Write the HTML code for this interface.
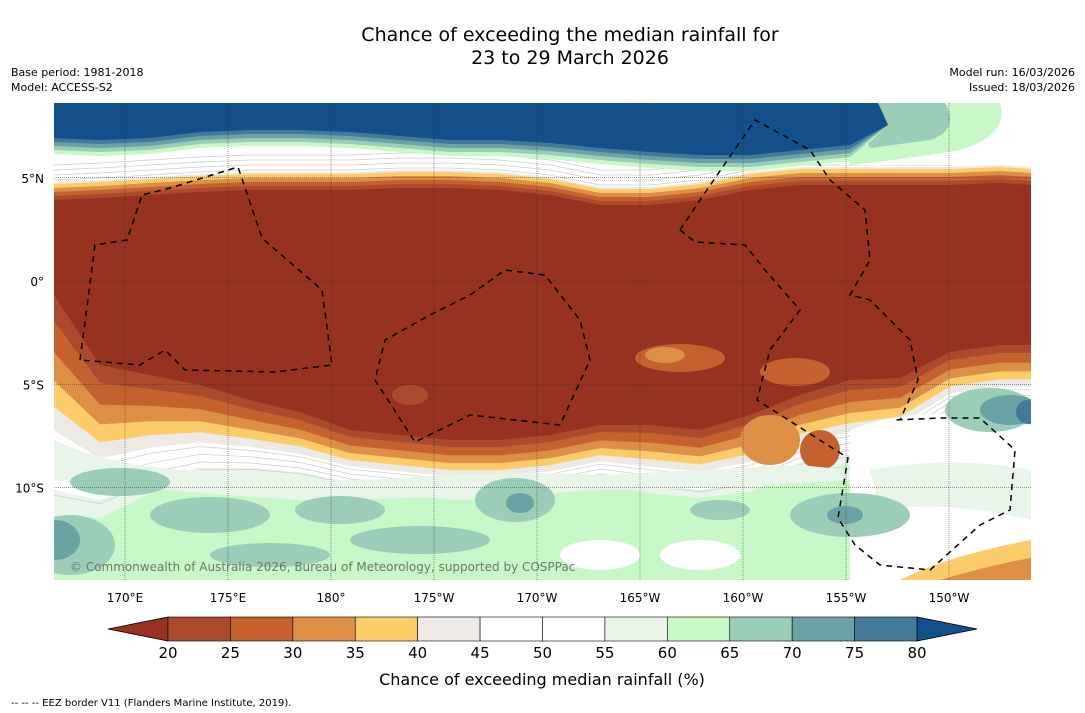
<!DOCTYPE html>
<html><head><meta charset="utf-8"><style>
body{margin:0;background:#fff;width:1085px;height:713px;overflow:hidden;font-family:"DejaVu Sans","Liberation Sans",sans-serif}
svg{position:absolute;left:0;top:0}
</style></head><body>
<svg id="s" width="1085" height="713" xmlns="http://www.w3.org/2000/svg">
<defs><clipPath id="mc"><rect x="54" y="103" width="977" height="477"/></clipPath></defs>
<text x="570" y="41" text-anchor="middle" font-size="19">Chance of exceeding the median rainfall for</text>
<text x="570" y="64" text-anchor="middle" font-size="19">23 to 29 March 2026</text>
<text x="11" y="76" font-size="11">Base period: 1981-2018</text>
<text x="11" y="91" font-size="11">Model: ACCESS-S2</text>
<text x="1075" y="76" font-size="11" text-anchor="end">Model run: 16/03/2026</text>
<text x="1075" y="91" font-size="11" text-anchor="end">Issued: 18/03/2026</text>
<g id="map" clip-path="url(#mc)"></g>
<g id="grid"></g>
<g id="cb"></g>
<text x="542" y="685" text-anchor="middle" font-size="16">Chance of exceeding median rainfall (%)</text>
<text x="11" y="706" font-size="10">--  --  -- EEZ border V11 (Flanders Marine Institute, 2019).</text>
</svg>
<script>
const levels=[20,25,30,35,40,45,50,55,60,65,70,75,80];
const colors=['#ab4a2c','#c4612f','#dd8f45','#fdcc6a','#ede9e4','#ffffff','#ffffff','#e8f5e8','#c8f7c8','#9bcdb9','#6ba2a3','#427a97'];
const underColor='#96321f', overColor='#134f8a';
const lonTicks=[170,175,180,-175,-170,-165,-160,-155,-150];
const lonLabels=['170°E','175°E','180°','175°W','170°W','165°W','160°W','155°W','150°W'];
const latTicks=[5,0,-5,-10];
const latLabels=['5°N','0°','5°S','10°S'];
const NS='http://www.w3.org/2000/svg';
function lonX(l){let e=l<0?l+360:l;return 125+(e-170)*20.6;}
function latY(l){return 281-l*20.65;}
function el(t,a,p){const e=document.createElementNS(NS,t);for(const k in a)e.setAttribute(k,a[k]);p.appendChild(e);return e;}
const map=document.getElementById('map');
let bg=el('rect',{x:54,y:103,width:977,height:477,fill:'#c8f7c8'},map);

const xs=[54,100,150,200,250,300,350,400,450,500,550,600,650,700,750,800,850,900,950,1000,1031];
const redTop=[200,198,195,192,190,190,190,188,188,190,195,205,205,200,190,185,185,185,185,183,185];
const redBot=[295,365,375,385,400,412,430,435,440,440,435,425,425,430,415,395,380,378,352,345,345];
const dBot=[26,18,14,11,9,8,7,7,7,7,7,7,8,8,9,9,10,9,8,8,8];
const topOff=[24,22,14,11,8,5,2.5,0];
function band(off1,off2,fill,name){
 let pts=[];
 xs.forEach((x,i)=>pts.push(x+','+(redTop[i]-off1)));
 for(let i=xs.length-1;i>=0;i--)pts.push(xs[i]+','+(redBot[i]+off2*dBot[i]));
 const p=el('polygon',{points:pts.join(' '),fill:fill},map);
 
}
band(50,8.5,'#e8f5e8','band-55-60');
band(46,7.5,'#ffffff','band-45-55');
band(18,5.2,'#ede9e4','band-40-45');
band(16,4.3,'#fdcc6a','band-35-40');
band(12,3.3,'#dd8f45','band-30-35');
band(8,2.2,'#c4612f','band-25-30');
band(4,1,'#ab4a2c','band-20-25');
band(0,0,underColor,'band-below-20');
for(let k=0;k<4;k++){let pts=[];xs.forEach((x,i)=>pts.push(x+','+(redBot[i]+(5.6+k*0.7)*dBot[i])));
 const l=el('polyline',{points:pts.join(' '),fill:'none',stroke:'#ccc','stroke-width':0.7},map);
 }
for(let k=0;k<4;k++){let pts=[];xs.forEach((x,i)=>pts.push(x+','+(redTop[i]-20-k*5)));
 const l=el('polyline',{points:pts.join(' '),fill:'none',stroke:'#ccc','stroke-width':0.7},map);
 }
[[680,358,45,14,'#c4612f'],[665,355,20,8,'#dd8f45'],[795,372,35,14,'#c4612f'],[770,440,30,25,'#dd8f45'],[820,450,20,20,'#c4612f'],[410,395,18,10,'#ab4a2c']].forEach(d=>{
 const e=el('ellipse',{cx:d[0],cy:d[1],rx:d[2],ry:d[3],fill:d[4]},map);
 });
let wt=el('path',{d:'M850 430 Q900 410 960 415 L1031 425 L1031 580 L850 580 Z',fill:'#ffffff'},map);

let wt2=el('path',{d:'M870 470 Q950 455 1031 470 L1031 520 Q950 500 880 510 Z',fill:'#e8f5e8'},map);

let ww=el('path',{d:'M54 440 Q120 470 200 470 Q300 485 400 478 Q500 470 600 475 Q700 470 800 465 L850 470 L850 480 Q700 490 600 490 Q400 500 300 500 Q150 490 54 480 Z',fill:'#e8f5e8'},map);

[[120,482,50,14,'#9bcdb9'],[210,515,60,18,'#9bcdb9'],[340,510,45,14,'#9bcdb9'],[515,500,40,22,'#9bcdb9'],[520,503,14,10,'#6ba2a3'],[70,545,45,30,'#9bcdb9'],[55,540,25,20,'#6ba2a3'],[420,540,70,14,'#9bcdb9'],[270,555,60,12,'#9bcdb9'],[850,515,60,22,'#9bcdb9'],[845,515,18,9,'#6ba2a3'],[990,410,45,22,'#9bcdb9'],[1010,410,30,15,'#6ba2a3'],[1028,412,12,12,'#427a97'],[720,510,30,10,'#9bcdb9'],[600,555,40,15,'#ffffff'],[700,555,40,15,'#ffffff']].forEach(d=>{
 const e=el('ellipse',{cx:d[0],cy:d[1],rx:d[2],ry:d[3],fill:d[4]},map);
 });
let br=el('path',{d:'M900 580 Q950 555 1031 540 L1031 580 Z',fill:'#fdcc6a'},map);

let br2=el('path',{d:'M940 580 Q990 565 1031 558 L1031 580 Z',fill:'#dd8f45'},map);

// northeast
let ne0=el('path',{d:'M840 103 L1031 103 L1031 165 L840 165 Z',fill:'#ffffff'},map);

let ne=el('path',{d:'M840 103 L1000 103 Q1010 135 960 150 Q900 160 850 165 Z',fill:'#c8f7c8'},map);

let ne3=el('path',{d:'M850 103 L945 103 Q960 130 930 140 L870 148 Z',fill:'#9bcdb9'},map);

const blueBot=[138,140,138,132,130,130,132,136,140,140,143,148,152,155,155,150,145];
const bxs=xs.slice(0,17);
function north(off,fill,name){let pts=['54,103','878,103','888,125'];
 for(let i=bxs.length-1;i>=0;i--)pts.push(bxs[i]+','+(blueBot[i]+off));
 const p=el('polygon',{points:pts.join(' '),fill:fill},map);
 }
north(16,'#c8f7c8','band-60-65-north');
north(12,'#9bcdb9','band-65-70-north');
north(8,'#6ba2a3','band-70-75-north');
north(4,'#427a97','band-75-80-north');
north(0,overColor,'band-above-80');
const eez=['M80 360 L95 245 L127 240 L142 195 L170 188 L238 167 L262 238 L322 290 L332 365 L275 372 L185 370 L165 350 L140 365 L80 360',
'M470 295 L505 270 L545 275 L580 320 L590 360 L560 425 L470 415 L415 442 L375 380 L385 340 L430 315 Z',
'M680 230 L700 200 L755 120 L810 150 L830 180 L865 210 L870 260 L850 295 L870 300 L910 340 L918 380 L900 420',
'M680 230 L695 242 L745 245 L765 270 L800 310 L770 350 L757 400 L848 458 L838 518 L855 545 L880 565 L930 570 L980 525 L1010 510 L1015 450 L980 418 L940 418 L895 420'];
eez.forEach(d=>{const p=el('path',{d:d,fill:'none',stroke:'#000','stroke-width':1.5,'stroke-dasharray':'6,5'},map);
 });
let cp=el('text',{x:70,y:571,'font-size':12,fill:'#6a7a6a'},map);cp.textContent='© Commonwealth of Australia 2026, Bureau of Meteorology, supported by COSPPac';

const g=document.getElementById('grid');
lonTicks.forEach((l,i)=>{const x=lonX(l);
 const ln=el('line',{x1:x,y1:103,x2:x,y2:580,stroke:'#333','stroke-width':0.5,'stroke-dasharray':'1,1'},g);
 
 const t=el('text',{x:x,y:602,'text-anchor':'middle','font-size':12},g);t.textContent=lonLabels[i];
 });
latTicks.forEach((l,i)=>{const y=latY(l);
 const ln=el('line',{x1:54,y1:y,x2:1031,y2:y,stroke:'#333','stroke-width':0.5,'stroke-dasharray':'1,1'},g);
 
 const t=el('text',{x:44,y:y+5,'text-anchor':'end','font-size':12},g);t.textContent=latLabels[i];
 });
const cb=document.getElementById('cb');
const cx0=168,cx1=917,cy=617,ch=24;
function cbX(v){return cx0+(v-levels[0])/(levels[levels.length-1]-levels[0])*(cx1-cx0);}
let tl=el('polygon',{points:`108,${cy+ch/2} ${cx0},${cy} ${cx0},${cy+ch}`,fill:underColor,stroke:'#000','stroke-width':0.8},cb);

let tr=el('polygon',{points:`977,${cy+ch/2} ${cx1},${cy} ${cx1},${cy+ch}`,fill:overColor,stroke:'#000','stroke-width':0.8},cb);

colors.forEach((c,i)=>{const r=el('rect',{x:cbX(levels[i]),y:cy,width:cbX(levels[i+1])-cbX(levels[i]),height:ch,fill:c,stroke:'#000','stroke-width':0.6},cb);
 });
levels.forEach(v=>{const t=el('text',{x:cbX(v),y:658,'text-anchor':'middle','font-size':15},cb);t.textContent=v;
 });
</script>
</body></html>
